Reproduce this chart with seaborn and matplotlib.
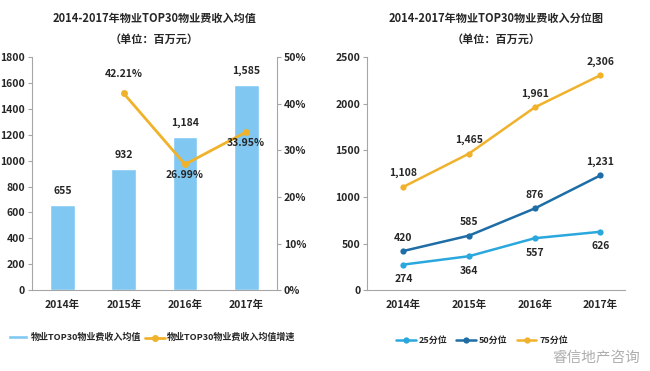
import numpy as np
import pandas as pd
import matplotlib
matplotlib.use('Agg')
import matplotlib.pyplot as plt
import seaborn as sns

# data
years = ['2014年', '2015年', '2016年', '2017年']
mean_income = [655, 932, 1184, 1585]
growth = [np.nan, 42.21, 26.99, 33.95]
q25 = [274, 364, 557, 626]
q50 = [420, 585, 876, 1231]
q75 = [1108, 1465, 1961, 2306]

sns.set_style('white')
plt.rcParams['font.family'] = ['Noto Sans CJK SC', 'DejaVu Sans']
plt.rcParams['font.weight'] = 'bold'

bar_color = '#80C8F2'
orange = '#F0B22A'
c25 = '#2AA8DE'
c50 = '#1E6DA6'
spine_c = '#A6A6A6'
fs = 7.5

fig = plt.figure(figsize=(6.5, 3.71), dpi=100)
ax1 = fig.add_axes([0.049, 0.218, 0.377, 0.628])
ax2 = ax1.twinx()
ax3 = fig.add_axes([0.565, 0.218, 0.397, 0.628])

# ---- left chart: bars + growth line
df_mean = pd.DataFrame({'year': years, 'value': mean_income})
sns.barplot(data=df_mean, x='year', y='value', color=bar_color, width=0.4,
            saturation=1, ax=ax1, label='物业TOP30物业费收入均值')
if ax1.get_legend() is not None:
    ax1.get_legend().remove()
ax1.set_ylim(0, 1800)
ax1.set_yticks(range(0, 1801, 200))
ax1.set_xlim(-0.5, 3.5)
for i, v in enumerate(mean_income):
    ax1.text(i, v + 70, f'{v:,}', ha='center', va='bottom', fontsize=fs, fontweight='bold')

df_g = pd.DataFrame({'x': np.arange(len(years)), 'g': growth}).dropna()
sns.lineplot(data=df_g, x='x', y='g', color=orange, marker='o', markersize=5,
             markeredgewidth=0, linewidth=2, ax=ax2, label='物业TOP30物业费收入均值增速')
ax2.set_ylim(0, 50)
ax2.set_yticks(range(0, 51, 10))
ax2.set_yticklabels([f'{t}%' for t in range(0, 51, 10)])
ax2.set_xlim(-0.5, 3.5)
g_off = {1: (0, 3.0, 'bottom'), 2: (0, -1.2, 'top'), 3: (0, -1.2, 'top')}
for i, v in zip(df_g['x'], df_g['g']):
    dx, dy, va = g_off[i]
    ax2.text(i + dx, v + dy, f'{v:.2f}%', ha='center', va=va, fontsize=fs, fontweight='bold')
ax2.set_ylabel('')
ax1.set_xlabel('')
ax1.set_ylabel('')

for ax in (ax1, ax2):
    for s in ax.spines.values():
        s.set_visible(False)
    ax.tick_params(labelsize=fs, length=3, color=spine_c, pad=2)
ax1.spines['bottom'].set_visible(True)
ax1.spines['left'].set_visible(True)
ax2.spines['right'].set_visible(True)
for s in ('bottom', 'left'):
    ax1.spines[s].set_color(spine_c)
ax2.spines['right'].set_color(spine_c)
ax1.tick_params(axis='x', length=0, pad=7)
for lab in ax1.get_xticklabels() + ax1.get_yticklabels() + ax2.get_yticklabels():
    lab.set_fontweight('bold')

ax1.set_title('2014-2017年物业TOP30物业费收入均值\n（单位：百万元）', fontsize=8,
              fontweight='bold', pad=10, linespacing=1.8)

h1, l1 = ax1.get_legend_handles_labels()
h2, l2 = ax2.get_legend_handles_labels()
if ax2.get_legend() is not None:
    ax2.get_legend().remove()
fig.legend(h1 + h2, l1 + l2, loc='center left', bbox_to_anchor=(0.0, 0.09), ncol=2,
           frameon=False, fontsize=6.5, handlelength=2.2, handletextpad=0.3, columnspacing=0.4,
           handleheight=0.4)

# ---- right chart: quantile lines
df_q = pd.DataFrame({
    'x': np.tile(np.arange(len(years)), 3),
    'value': q25 + q50 + q75,
    'series': ['25分位'] * 4 + ['50分位'] * 4 + ['75分位'] * 4,
})
sns.lineplot(data=df_q, x='x', y='value', hue='series', palette=[c25, c50, orange],
             marker='o', markersize=4.5, markeredgewidth=0, linewidth=1.8, ax=ax3)
ax3.set_ylim(0, 2500)
ax3.set_yticks(range(0, 2501, 500))
ax3.set_xlim(-0.55, 3.38)
ax3.set_xticks(range(len(years)))
ax3.set_xticklabels(years)
ax3.set_xlabel('')
ax3.set_ylabel('')
for i, v in enumerate(q75):
    ax3.text(i, v + 90, f'{v:,}', ha='center', va='bottom', fontsize=fs, fontweight='bold')
for i, v in enumerate(q50):
    ax3.text(i, v + 90, f'{v:,}', ha='center', va='bottom', fontsize=fs, fontweight='bold')
for i, v in enumerate(q25):
    ax3.text(i, v - 100, f'{v:,}', ha='center', va='top', fontsize=fs, fontweight='bold')
for s in ('top', 'right'):
    ax3.spines[s].set_visible(False)
for s in ('bottom', 'left'):
    ax3.spines[s].set_color(spine_c)
ax3.tick_params(labelsize=fs, length=3, color=spine_c, pad=2)
ax3.tick_params(axis='x', length=0, pad=7)
ax3.tick_params(axis='y', left=True)
for lab in ax3.get_xticklabels() + ax3.get_yticklabels():
    lab.set_fontweight('bold')
ax3.set_title('2014-2017年物业TOP30物业费收入分位图\n（单位：百万元）', fontsize=8,
              fontweight='bold', pad=10, linespacing=1.8)
ax3.legend(loc='center left', bbox_to_anchor=(0.08, -0.215), ncol=3, frameon=False,
           fontsize=6.5, handlelength=2.2, handletextpad=0.3, columnspacing=1.0)

fig.text(0.985, 0.035, '睿信地产咨询', ha='right', va='center', fontsize=10.5,
         color='#9A9A9A', fontweight='normal', alpha=0.8)

fig.savefig('out.png', dpi=100, facecolor='white')
